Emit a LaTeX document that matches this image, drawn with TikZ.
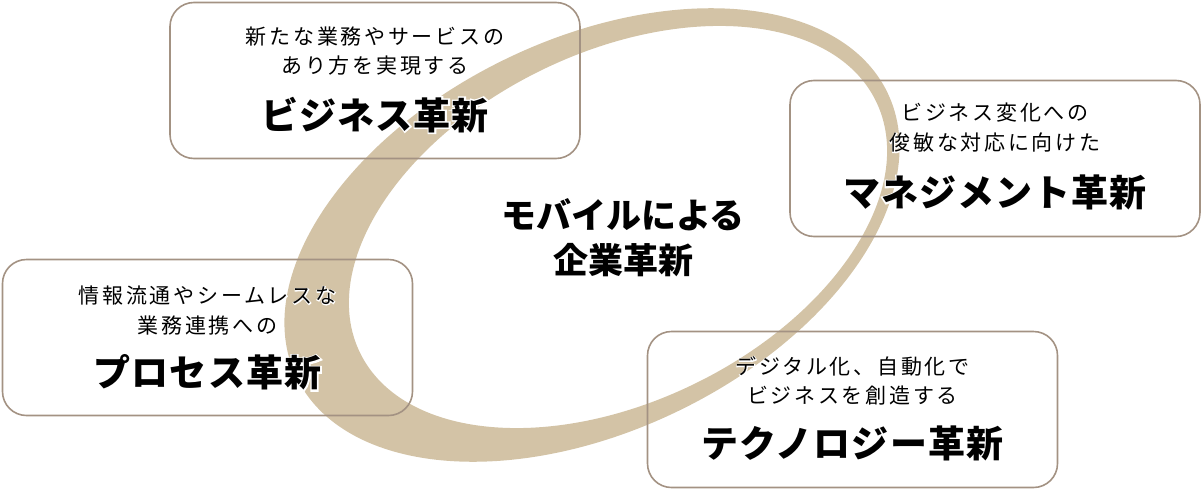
\documentclass[tikz,border=0pt]{standalone}
\usepackage{fontspec}
\newfontfamily\jpfont{Noto Sans CJK JP}
\usepackage{tikz}
\usetikzlibrary{positioning}

\definecolor{ringtan}{RGB}{211,195,166}
\definecolor{boxline}{RGB}{163,146,131}

% white outline under the text where it meets the ring
\newcommand\halo[1]{\rlap{\color{white}\addfontfeature{FakeBold=8}#1}#1}

\tikzset{
  field/.style={draw=boxline, line width=1.6pt, rounded corners=24pt,
                minimum width=410pt, minimum height=156pt, inner sep=0pt},
  lead/.style={font=\jpfont\fontsize{21}{24}\selectfont\addfontfeature{LetterSpace=13}, inner sep=0pt},
  title/.style={font=\jpfont\bfseries\fontsize{37}{44}\selectfont\addfontfeature{LetterSpace=3}, inner sep=0pt},
  core/.style={font=\jpfont\bfseries\fontsize{35}{45}\selectfont, align=center, inner sep=0pt}
}

\begin{document}
\begin{tikzpicture}[x=1pt,y=1pt]
  \useasboundingbox (0,0) rectangle (1202,-490);

  % ring
  \fill[ringtan, even odd rule]
    (592,-235) ellipse [x radius=328, y radius=196, rotate=25.7]
    (618,-227) ellipse [x radius=287, y radius=174.5, rotate=26];

  % boxes
  \node[field] (biz)  at (375,-80.5)  {};
  \node[field] (mgmt) at (995,-158.5) {};
  \node[field] (proc) at (207.5,-337.5) {};
  \node[field] (tech) at (852.5,-409.5) {};

  % texts
  \node[lead]  (biz1) at ([yshift=-35pt]biz.north)  {\halo{新たな業務やサービスの}};
  \node[lead]  (biz2) at ([yshift=-64pt]biz.north)  {\halo{あり方を実現する}};
  \node[title] (bizt) at ([yshift=-113pt]biz.north) {\halo{ビジネス革新}};

  \node[lead]  (mgmt1) at ([yshift=-33pt]mgmt.north)  {\halo{ビジネス変化への}};
  \node[lead]  (mgmt2) at ([yshift=-63pt]mgmt.north)  {\halo{俊敏な対応に向けた}};
  \node[title] (mgmtt) at ([yshift=-113pt]mgmt.north) {\halo{マネジメント革新}};

  \node[lead]  (proc1) at ([yshift=-37pt]proc.north)  {\halo{情報流通やシームレスな}};
  \node[lead]  (proc2) at ([yshift=-67pt]proc.north)  {\halo{業務連携への}};
  \node[title] (proct) at ([yshift=-114pt]proc.north) {\halo{プロセス革新}};

  \node[lead]  (tech1) at ([yshift=-36pt]tech.north)  {\halo{デジタル化、自動化で}};
  \node[lead]  (tech2) at ([yshift=-65pt]tech.north)  {\halo{ビジネスを創造する}};
  \node[title] (techt) at ([yshift=-113pt]tech.north) {\halo{テクノロジー革新}};

  \node[core] (mobile) at (623,-238) {モバイルによる\\企業革新};

\end{tikzpicture}
\end{document}
